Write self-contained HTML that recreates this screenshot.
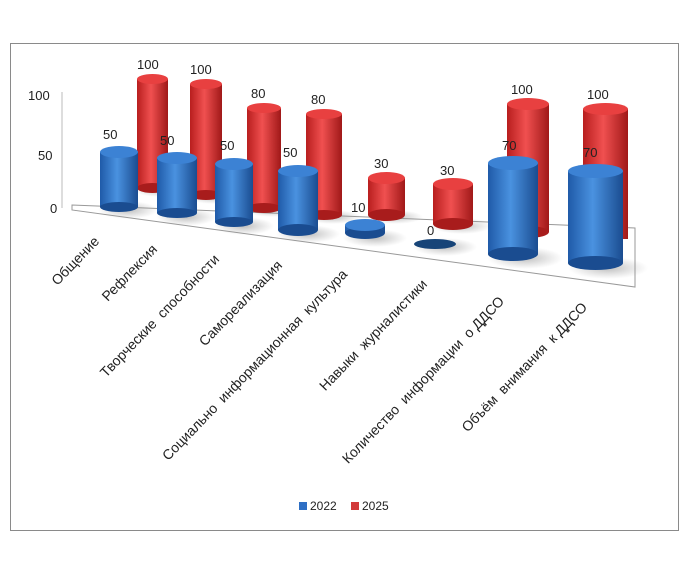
<!DOCTYPE html>
<html><head><meta charset="utf-8"><style>
body{margin:0;background:#fff}
svg{display:block}
text{font-family:"Liberation Sans",sans-serif;fill:#222;white-space:pre}
</style></head><body>
<svg width="696" height="564" viewBox="0 0 696 564">
<defs>
<linearGradient id="r" x1="0" x2="1"><stop offset="0" stop-color="#b81e1e"/><stop offset="0.45" stop-color="#f05050"/><stop offset="1" stop-color="#a01818"/></linearGradient>
<linearGradient id="b" x1="0" x2="1"><stop offset="0" stop-color="#1f5aa8"/><stop offset="0.45" stop-color="#4a92e0"/><stop offset="1" stop-color="#1a4c90"/></linearGradient>
<radialGradient id="sh"><stop offset="0" stop-color="#888" stop-opacity="0.55"/><stop offset="1" stop-color="#999" stop-opacity="0"/></radialGradient>
</defs>
<rect x="10.5" y="43.5" width="668" height="487" fill="#fff" stroke="#8a8a8a"/>
<line x1="62" y1="92" x2="62" y2="208" stroke="#bbb"/>
<polygon points="72,205 635,228 635,287 72,210" fill="#fff" stroke="#999"/>
<!-- shadows -->
<g fill="url(#sh)">
<ellipse cx="128" cy="210" rx="30" ry="9"/><ellipse cx="186" cy="217" rx="30" ry="9"/>
<ellipse cx="244" cy="226" rx="30" ry="9"/><ellipse cx="308" cy="234" rx="32" ry="9"/>
<ellipse cx="375" cy="238" rx="32" ry="9"/><ellipse cx="445" cy="247" rx="32" ry="9"/>
<ellipse cx="525" cy="258" rx="38" ry="11"/><ellipse cx="608" cy="268" rx="40" ry="11"/>
<ellipse cx="160" cy="190" rx="26" ry="7"/><ellipse cx="214" cy="197" rx="26" ry="7"/>
<ellipse cx="272" cy="210" rx="26" ry="7"/><ellipse cx="333" cy="217" rx="28" ry="7"/>
<ellipse cx="395" cy="217" rx="28" ry="7"/><ellipse cx="462" cy="226" rx="30" ry="8"/>
</g>
<text x="28" y="100" font-size="13">100</text>
<text x="38" y="160" font-size="13">50</text>
<text x="50" y="213" font-size="13">0</text>
<g>
<rect x="137" y="79" width="31" height="109" fill="url(#r)"/><ellipse cx="152.5" cy="188" rx="15.5" ry="5" fill="#a81c1c"/><ellipse cx="152.5" cy="79" rx="15.5" ry="5" fill="#e84040"/>
<rect x="190" y="84" width="32" height="111" fill="url(#r)"/><ellipse cx="206" cy="195" rx="16" ry="5" fill="#a81c1c"/><ellipse cx="206" cy="84" rx="16" ry="5" fill="#e84040"/>
<rect x="247" y="108" width="34" height="100" fill="url(#r)"/><ellipse cx="264" cy="208" rx="17" ry="5" fill="#a81c1c"/><ellipse cx="264" cy="108" rx="17" ry="5" fill="#e84040"/>
<rect x="306" y="114" width="36" height="101" fill="url(#r)"/><ellipse cx="324" cy="215" rx="18" ry="5" fill="#a81c1c"/><ellipse cx="324" cy="114" rx="18" ry="5" fill="#e84040"/>
<rect x="368" y="178" width="37" height="37" fill="url(#r)"/><ellipse cx="386.5" cy="215" rx="18.5" ry="6" fill="#a81c1c"/><ellipse cx="386.5" cy="178" rx="18.5" ry="6" fill="#e84040"/>
<rect x="433" y="184" width="40" height="40" fill="url(#r)"/><ellipse cx="453" cy="224" rx="20" ry="6" fill="#a81c1c"/><ellipse cx="453" cy="184" rx="20" ry="6" fill="#e84040"/>
<rect x="507" y="104" width="42" height="128" fill="url(#r)"/><ellipse cx="528" cy="232" rx="21" ry="6" fill="#a81c1c"/><ellipse cx="528" cy="104" rx="21" ry="6" fill="#e84040"/>
<rect x="583" y="109" width="45" height="130" fill="url(#r)"/><ellipse cx="605.5" cy="109" rx="22.5" ry="6" fill="#e84040"/>
</g>
<text x="137" y="69" font-size="13">100</text>
<text x="190" y="74" font-size="13">100</text>
<text x="251" y="98" font-size="13">80</text>
<text x="311" y="104" font-size="13">80</text>
<text x="374" y="168" font-size="13">30</text>
<text x="440" y="175" font-size="13">30</text>
<text x="511" y="94" font-size="13">100</text>
<text x="587" y="99" font-size="13">100</text>
<g>
<rect x="100" y="152" width="38" height="55" fill="url(#b)"/><ellipse cx="119" cy="207" rx="19" ry="5" fill="#1a4c90"/><ellipse cx="119" cy="152" rx="19" ry="6" fill="#3c82d4"/>
<rect x="157" y="158" width="40" height="55" fill="url(#b)"/><ellipse cx="177" cy="213" rx="20" ry="5" fill="#1a4c90"/><ellipse cx="177" cy="158" rx="20" ry="6" fill="#3c82d4"/>
<rect x="215" y="164" width="38" height="58" fill="url(#b)"/><ellipse cx="234" cy="222" rx="19" ry="5" fill="#1a4c90"/><ellipse cx="234" cy="164" rx="19" ry="6" fill="#3c82d4"/>
<rect x="278" y="171" width="40" height="59" fill="url(#b)"/><ellipse cx="298" cy="230" rx="20" ry="6" fill="#1a4c90"/><ellipse cx="298" cy="171" rx="20" ry="6" fill="#3c82d4"/>
<rect x="345" y="225" width="40" height="8" fill="url(#b)"/><ellipse cx="365" cy="233" rx="20" ry="6" fill="#1a4c90"/><ellipse cx="365" cy="225" rx="20" ry="6" fill="#3c82d4"/>
<ellipse cx="435" cy="244" rx="21" ry="5" fill="#174478"/>
<rect x="488" y="163" width="50" height="91" fill="url(#b)"/><ellipse cx="513" cy="254" rx="25" ry="7" fill="#1a4c90"/><ellipse cx="513" cy="163" rx="25" ry="7" fill="#3c82d4"/>
<rect x="568" y="171" width="55" height="92" fill="url(#b)"/><ellipse cx="595.5" cy="263" rx="27.5" ry="7" fill="#1a4c90"/><ellipse cx="595.5" cy="171" rx="27.5" ry="7" fill="#3c82d4"/>
</g>
<text x="103" y="139" font-size="13">50</text>
<text x="160" y="145" font-size="13">50</text>
<text x="220" y="150" font-size="13">50</text>
<text x="283" y="157" font-size="13">50</text>
<text x="351" y="212" font-size="13">10</text>
<text x="427" y="235" font-size="13">0</text>
<text x="502" y="150" font-size="13">70</text>
<text x="583" y="157" font-size="13">70</text>
<g font-size="14" text-anchor="end">
<text transform="translate(100,242) rotate(-46)">Общение</text>
<text transform="translate(158,250) rotate(-46)">Рефлексия</text>
<text transform="translate(220,260) rotate(-46)">Творческие  способности</text>
<text transform="translate(283,266) rotate(-46)">Самореализация</text>
<text transform="translate(348,275) rotate(-46)">Социально  информационная  культура</text>
<text transform="translate(428,285) rotate(-46)">Навыки  журналистики</text>
<text transform="translate(505,302) rotate(-46)">Количество  информации  о ДДСО</text>
<text transform="translate(588,308) rotate(-46)">Объём  внимания  к ДДСО</text>
</g>
<rect x="299" y="502" width="8" height="8" fill="#2e6fc4"/>
<text x="310" y="510" font-size="12">2022</text>
<rect x="351" y="502" width="8" height="8" fill="#d23a3a"/>
<text x="362" y="510" font-size="12">2025</text>
</svg>
</body></html>
